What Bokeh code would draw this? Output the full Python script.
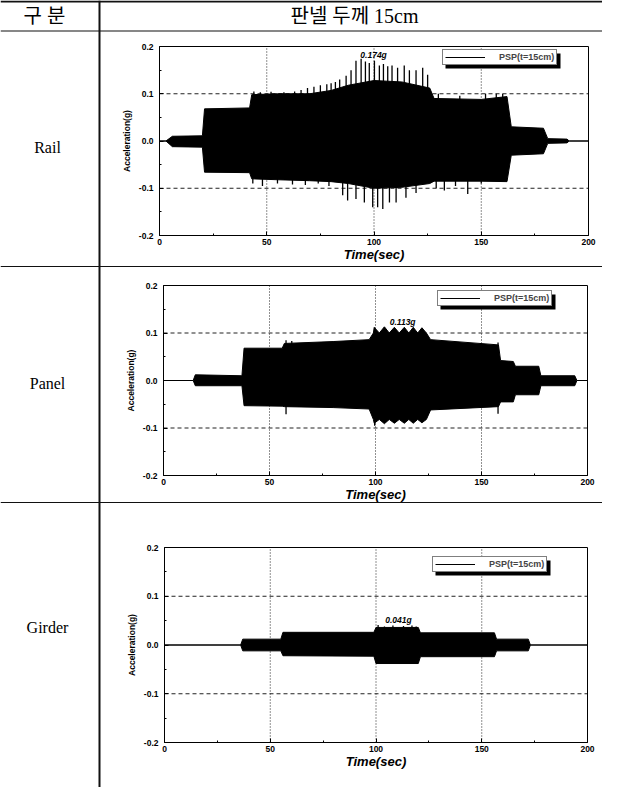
from bokeh.plotting import figure
from bokeh.models import (Range1d, FixedTicker, NumeralTickFormatter, Legend, LinearAxis,
                          LegendItem, BoxAnnotation, ColumnDataSource)
from bokeh.core.properties import value
from bokeh.embed import file_html
from bokeh.resources import INLINE

# ---------------- data ----------------
header_texts = ["구 분", "판넬 두께 15cm"]
row_labels = ["Rail", "Panel", "Girder"]
series_label = "PSP(t=15cm)"
x_ticks = [0, 50, 100, 150, 200]
x_minor = [25, 75, 125, 175]
y_ticks = [-0.2, -0.1, 0.0, 0.1, 0.2]
y_minor = [-0.15, -0.05, 0.05, 0.15]
x_grid = [50, 100, 150]
y_grid = [-0.1, 0.1]

# Rail envelope (time s, upper g, lower g)
rail_t = [0, 3, 6, 20, 21, 42, 43, 55, 70, 80, 88, 100, 113, 126, 128, 150, 162, 164, 179, 181, 190, 191, 200]
rail_up = [0, 0, 0.010, 0.011, 0.068, 0.070, 0.098, 0.100, 0.100, 0.107, 0.118, 0.128, 0.125, 0.112, 0.090,
           0.088, 0.094, 0.030, 0.027, 0.005, 0.004, 0.0, 0]
rail_lo = [0, 0, -0.012, -0.013, -0.066, -0.067, -0.080, -0.082, -0.084, -0.086, -0.090, -0.100, -0.098, -0.090,
           -0.085, -0.085, -0.086, -0.030, -0.027, -0.005, -0.004, 0.0, 0]
rail_spk_t = [44, 47, 52, 58, 63, 66, 69, 72, 75, 78, 80, 82, 84,
              87.0, 89.3, 91.6, 94.0, 96.0, 97.8, 100.2, 102.5, 104.4, 106.4, 108.4, 111.0, 114.1, 116.5,
              119.6, 122.7, 125.0, 130, 140, 152, 157, 160,
              43.5, 48, 55, 62, 68, 74, 79,
              85.4, 87.7, 91.6, 95.5, 99.4, 101.7, 104.1, 107.2, 110.3, 114.9, 119.6, 129, 132.8, 138,
              143.7, 150]
rail_spk_v = [0.105, 0.103, 0.104, 0.103, 0.105, 0.108, 0.112, 0.115, 0.118, 0.120, 0.122, 0.125, 0.130,
              0.138, 0.150, 0.170, 0.174, 0.168, 0.165, 0.170, 0.160, 0.163, 0.158, 0.160, 0.155, 0.160, 0.150,
              0.150, 0.155, 0.140, 0.100, 0.096, 0.100, 0.100, 0.100,
              -0.090, -0.095, -0.090, -0.092, -0.093, -0.090, -0.095,
              -0.115, -0.126, -0.123, -0.130, -0.140, -0.140, -0.144, -0.130, -0.130, -0.120, -0.110, -0.100,
              -0.105, -0.095, -0.112, -0.090]

# Panel envelope
panel_t = [0, 14, 15, 37, 38, 56, 57, 80, 97, 99, 99.4, 101.8, 104.2, 106.5, 108.9, 111.2, 113.6, 115.7,
           117.8, 119.9, 121.9, 124, 126, 158, 159, 165, 166, 177, 178, 194, 195, 200]
panel_up = [0, 0, 0.012, 0.010, 0.068, 0.068, 0.078, 0.082, 0.086, 0.100, 0.112, 0.100, 0.113, 0.100, 0.112,
            0.100, 0.112, 0.100, 0.112, 0.100, 0.111, 0.100, 0.086, 0.075, 0.042, 0.040, 0.030, 0.030, 0.010,
            0.010, 0, 0]
panel_lo = [0, 0, -0.011, -0.011, -0.053, -0.054, -0.055, -0.057, -0.060, -0.082, -0.090, -0.082, -0.091,
            -0.082, -0.090, -0.082, -0.090, -0.082, -0.090, -0.082, -0.089, -0.082, -0.062, -0.055, -0.045,
            -0.045, -0.030, -0.030, -0.011, -0.011, 0, 0]
panel_spk_t = [57.8, 60.5, 157.8, 57.8, 99.6, 157.8]
panel_spk_v = [0.085, 0.083, 0.080, -0.071, -0.095, -0.070]

# Girder envelope
girder_t = [0, 36, 37, 55, 56, 99, 100, 120, 121, 156, 157, 172, 173, 200]
girder_up = [0, 0, 0.012, 0.012, 0.026, 0.026, 0.036, 0.036, 0.025, 0.025, 0.012, 0.012, 0, 0]
girder_lo = [0, 0, -0.012, -0.012, -0.022, -0.023, -0.038, -0.038, -0.024, -0.024, -0.012, -0.012, 0, 0]
girder_spk_t = [101.0, 104.0, 108.0, 113.0, 117.0, 119.0]
girder_spk_v = [0.041, 0.038, 0.040, 0.039, 0.040, 0.038]

peak_texts = ["0.174g", "0.113g", "0.041g"]
peak_label_t = [99.8, 112.8, 110.6]
peak_label_v = [0.182, 0.1225, 0.0517]

# ---------------- page / styling ----------------
SANS = "Liberation Sans"
SERIF = "Liberation Serif, Noto Sans CJK KR"
PW, PH = 602, 787  # page (figure) size in px; page coords = window - 8

p = figure(width=PW, height=PH, x_range=Range1d(0, PW), y_range=Range1d(PH, 0),
           x_axis_type=None, y_axis_type=None, title=None, toolbar_location=None,
           output_backend="svg", min_border=0, outline_line_color=None,
           background_fill_color="white", border_fill_color="white")

# ---- table rules (page px) ----
rule_l = [0, 0, 98, 0, 0]
rule_r = [PW, PW, 100, PW, PW]
rule_t = [0, 30, 0, 265.5, 501.5]
rule_b = [2, 31, PH, 266.5, 502.5]
p.quad(left=rule_l, right=rule_r, top=rule_t, bottom=rule_b, fill_color="#111111", line_color=None)

p.text(x=[44, 354], y=[15, 15], text=header_texts, text_font=value(SERIF), text_font_size="20px",
       text_align="center", text_baseline="middle", text_color="black")
p.text(x=[47, 47, 47], y=[147, 383, 627], text=row_labels, text_font=value(SERIF),
       text_font_size="16px", text_align="center", text_baseline="middle", text_color="black")

x_ranges, y_ranges = {}, {}


def subplot(name, t, up, lo, spk_t, spk_v, ptext, pt, pv, frame, leg_loc):
    fl, fr, ft, fb = frame  # page px of the frame edges
    kx = (x_ticks[-1] - x_ticks[0]) / (fr - fl)
    x_ranges[name] = Range1d(x_ticks[0] - fl * kx, x_ticks[-1] + (PW - fr) * kx)
    ky = (y_ticks[-1] - y_ticks[0]) / (fb - ft)
    y_ranges[name] = Range1d(y_ticks[0] - (PH - fb) * ky, y_ticks[-1] + ft * ky)
    kw = dict(x_range_name=name, y_range_name=name)

    # grid
    p.segment(x0=x_grid, y0=[y_ticks[0]] * len(x_grid), x1=x_grid, y1=[y_ticks[-1]] * len(x_grid),
              line_color="#222222", line_dash="1 2", line_width=1, **kw)
    p.segment(x0=[x_ticks[0]] * len(y_grid), y0=y_grid, x1=[x_ticks[-1]] * len(y_grid), y1=y_grid,
              line_color="#222222", line_dash="4 3", line_width=1, **kw)

    src = ColumnDataSource(dict(t=t, up=up, lo=lo))
    p.varea(x="t", y1="lo", y2="up", source=src, fill_color="black", **kw)
    r_line = p.line(x="t", y="up", source=src, line_color="black", line_width=1, **kw)
    p.line(x="t", y="lo", source=src, line_color="black", line_width=1, **kw)
    p.segment(x0=spk_t, y0=[0] * len(spk_t), x1=spk_t, y1=spk_v, line_color="black", line_width=1.3, **kw)

    # frame box
    p.quad(left=[x_ticks[0]], right=[x_ticks[-1]], bottom=[y_ticks[0]], top=[y_ticks[-1]],
           fill_color=None, line_color="black", line_width=1, **kw)

    # axes, limited to the sub-plot extent
    xa = LinearAxis(fixed_location=y_ticks[0], bounds=(x_ticks[0], x_ticks[-1]),
                    ticker=FixedTicker(ticks=x_ticks, minor_ticks=x_minor),
                    axis_label="Time(sec)", **kw)
    ya = LinearAxis(fixed_location=x_ticks[0], bounds=(y_ticks[0], y_ticks[-1]),
                    ticker=FixedTicker(ticks=y_ticks, minor_ticks=y_minor),
                    formatter=NumeralTickFormatter(format="0.0"), axis_label="Acceleration(g)", **kw)
    for ax in (xa, ya):
        ax.major_tick_in = 4
        ax.major_tick_out = 0
        ax.minor_tick_in = 2
        ax.minor_tick_out = 0
        ax.axis_line_color = "black"
        ax.major_tick_line_color = "black"
        ax.minor_tick_line_color = "black"
        ax.major_label_text_font = SANS
        ax.major_label_text_font_style = "bold"
        ax.major_label_text_font_size = "8.5px"
        ax.major_label_text_color = "black"
        ax.axis_label_text_font = SANS
        ax.axis_label_text_color = "black"
    xa.axis_label_text_font_style = "bold italic"
    xa.axis_label_text_font_size = "13px"
    xa.major_label_standoff = 3
    xa.axis_label_standoff = -1
    ya.axis_label_text_font_style = "bold"
    ya.axis_label_text_font_size = "8.5px"
    ya.major_label_standoff = 6
    ya.axis_label_standoff = 4
    p.add_layout(xa, "below")
    p.add_layout(ya, "left")

    # peak value label
    p.text(x=[pt], y=[pv], text=[ptext], text_font=value(SANS), text_font_style="bold italic",
           text_font_size="8.5px", text_align="center", text_baseline="middle", text_color="black", **kw)

    # legend with drop shadow
    lw, lh = 115, 15
    lx, ly = leg_loc
    p.add_layout(BoxAnnotation(left=lx + 3, right=lx + lw + 3, bottom=ly - 3, top=ly + lh - 3,
                               left_units="screen", right_units="screen",
                               bottom_units="screen", top_units="screen",
                               fill_color="black", fill_alpha=1, line_color=None))
    leg = Legend(items=[LegendItem(label=series_label, renderers=[r_line])], location=leg_loc,
                 border_line_color="black", border_line_width=1, background_fill_color="white",
                 background_fill_alpha=1, padding=2, margin=0, spacing=0, glyph_width=40,
                 glyph_height=8, label_height=8, label_standoff=14, label_text_font=SANS,
                 label_text_font_style="bold", label_text_font_size="9px")
    p.add_layout(leg)


subplot("rail", rail_t, rail_up, rail_lo, rail_spk_t, rail_spk_v, peak_texts[0], peak_label_t[0],
        peak_label_v[0], (159, 588, 46, 235), (442, 722))
subplot("panel", panel_t, panel_up, panel_lo, panel_spk_t, panel_spk_v, peak_texts[1], peak_label_t[1],
        peak_label_v[1], (163, 587, 285, 475), (437, 481))
subplot("girder", girder_t, girder_up, girder_lo, girder_spk_t, girder_spk_v, peak_texts[2],
        peak_label_t[2], peak_label_v[2], (164, 587, 547, 742), (432, 215))

p.extra_x_ranges = x_ranges
p.extra_y_ranges = y_ranges

open("out.html", "w").write(file_html(p, INLINE))
